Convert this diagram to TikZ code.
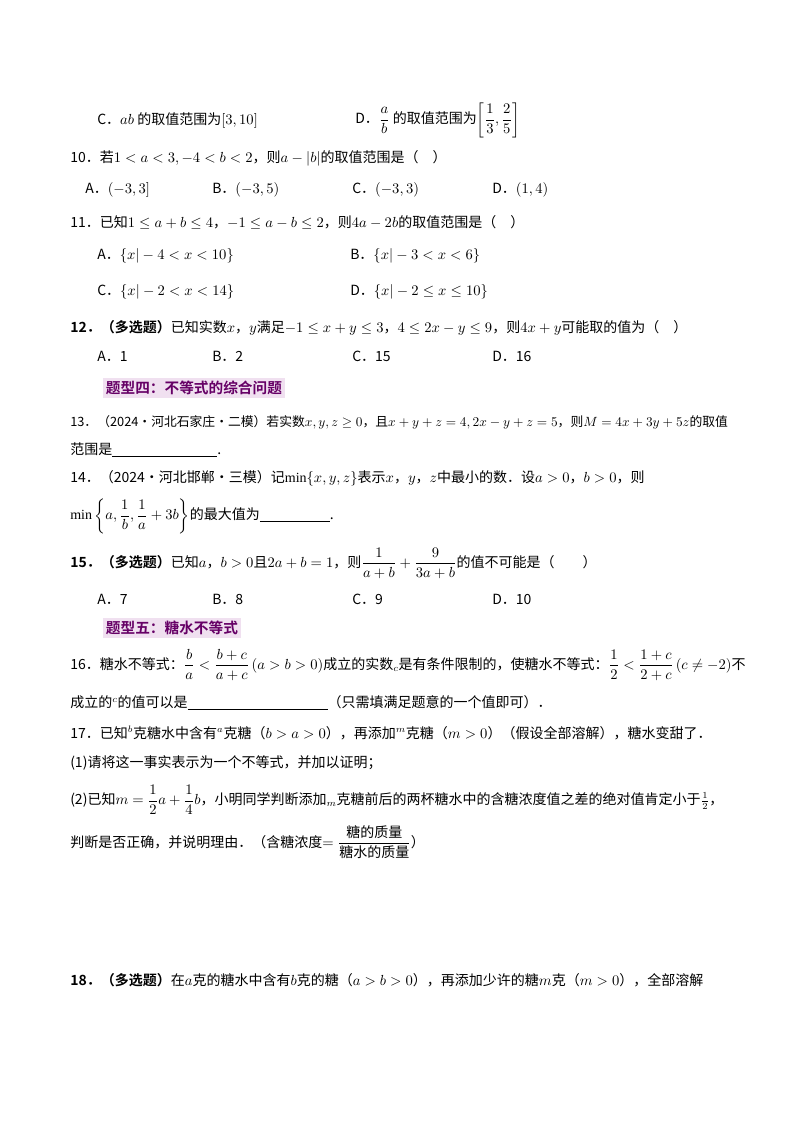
\documentclass[tikz,border=0pt]{standalone}
\usepackage{amsmath}
\usepackage{fontspec}
\setmainfont{Liberation Serif}
\newfontfamily\cjk{Noto Sans CJK SC}
\newfontfamily\cjkb{Noto Sans CJK SC Bold}
\begin{document}
\begin{tikzpicture}[x=0.75pt,y=-0.75pt,
  t/.style={anchor=west,inner sep=0pt,font=\cjk\fontsize{10.5}{12}\selectfont},
  hd/.style={anchor=west,inner sep=2pt,font=\cjkb\fontsize{11}{13}\selectfont,text=violet!80!black,fill=violet!12}]
\useasboundingbox (0,0) rectangle (800,1132);
\fill[white] (0,0) rectangle (800,1132);
\node[t] (l1a) at (97,120) {C．$ab$ 的取值范围为$[3,10]$};
\node[t] (l1b) at (355,120) {D．$\dfrac{a}{b}$ 的取值范围为$\left[\dfrac13,\dfrac25\right]$};
\node[t] (q10) at (70,158) {10．若$1<a<3,-4<b<2$，则$a-|b|$的取值范围是（\quad）};
\node[t] (q10a) at (85,190) {A．$(-3,3]$};
\node[t] (q10b) at (212,190) {B．$(-3,5)$};
\node[t] (q10c) at (352,190) {C．$(-3,3)$};
\node[t] (q10d) at (492,190) {D．$(1,4)$};
\node[t] (q11) at (70,222) {11．已知$1\le a+b\le 4$，$-1\le a-b\le 2$，则$4a-2b$的取值范围是（\quad）};
\node[t] (q11a) at (97,256) {A．$\{x|-4<x<10\}$};
\node[t] (q11b) at (350,256) {B．$\{x|-3<x<6\}$};
\node[t] (q11c) at (97,292) {C．$\{x|-2<x<14\}$};
\node[t] (q11d) at (350,292) {D．$\{x|-2\le x\le 10\}$};
\node[t] (q12) at (70,328) {{\cjkb 12．（多选题）}已知实数$x$，$y$满足$-1\le x+y\le 3$，$4\le 2x-y\le 9$，则$4x+y$可能取的值为（\quad）};
\node[t] (q12a) at (97,356) {A．1};
\node[t] (q12b) at (212,356) {B．2};
\node[t] (q12c) at (352,356) {C．15};
\node[t] (q12d) at (492,356) {D．16};
\node[hd] (h4) at (103,388) {题型四：不等式的综合问题};
\node[t,font=\cjk\fontsize{9.6}{12}\selectfont] (q13) at (70,422) {13．（2024·河北石家庄·二模）若实数$x,y,z\ge0$，且$x+y+z=4,2x-y+z=5$，则$M=4x+3y+5z$的取值};
\node[t] (q13b) at (70,450) {范围是\underline{\hspace{7.5em}}.};
\node[t] (q14) at (70,478) {14．（2024·河北邯郸·三模）记$\min\{x,y,z\}$表示$x$，$y$，$z$中最小的数．设$a>0$，$b>0$，则};
\node[t] (q14b) at (70,516) {$\min\left\{a,\dfrac1b,\dfrac1a+3b\right\}$的最大值为\underline{\hspace{5em}}.};
\node[t] (q15) at (70,563) {{\cjkb 15．（多选题）}已知$a$，$b>0$且$2a+b=1$，则$\dfrac{1}{a+b}+\dfrac{9}{3a+b}$的值不可能是（\qquad）};
\node[t] (q15a) at (97,599) {A．7};
\node[t] (q15b) at (212,599) {B．8};
\node[t] (q15c) at (352,599) {C．9};
\node[t] (q15d) at (492,599) {D．10};
\node[hd] (h5) at (103,628) {题型五：糖水不等式};
\node[t] (q16) at (70,665) {16．糖水不等式：$\dfrac ba<\dfrac{b+c}{a+c}\left(a>b>0\right)$成立的实数$_c$是有条件限制的，使糖水不等式：$\dfrac12<\dfrac{1+c}{2+c}\left(c\neq-2\right)$不};
\node[t] (q16b) at (70,703) {成立的$^c$的值可以是\underline{\hspace{10em}}（只需填满足题意的一个值即可）．};
\node[t] (q17) at (70,733) {17．已知$^b$克糖水中含有$^a$克糖（$b>a>0$），再添加$^m$克糖（$m>0$）（假设全部溶解），糖水变甜了．};
\node[t] (q17a) at (70,763) {(1)请将这一事实表示为一个不等式，并加以证明；};
\node[t] (q17b) at (70,800) {(2)已知$m=\dfrac12a+\dfrac14b$，小明同学判断添加$_m$克糖前后的两杯糖水中的含糖浓度值之差的绝对值肯定小于$\frac12$，};
\node[t] (q17c) at (70,842) {判断是否正确，并说明理由．（含糖浓度$=\dfrac{\text{\cjk 糖的质量}}{\text{\cjk 糖水的质量}}$）};
\node[t] (q18) at (70,980) {{\cjkb 18．（多选题）}在$a$克的糖水中含有$b$克的糖（$a>b>0$），再添加少许的糖$m$克（$m>0$），全部溶解};
\end{tikzpicture}
\end{document}
